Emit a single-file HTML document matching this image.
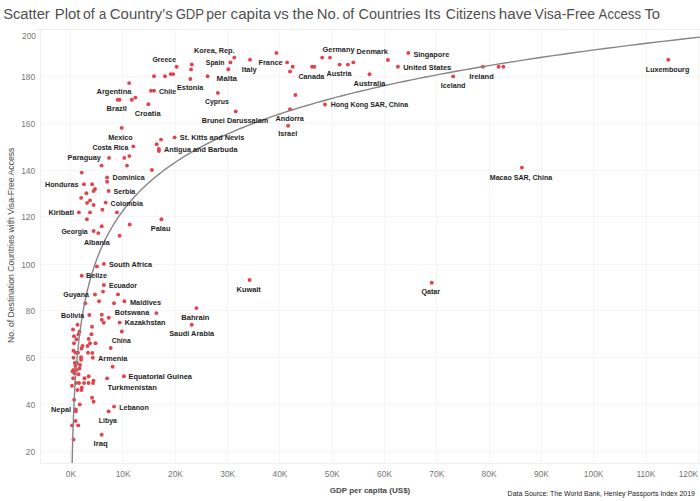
<!DOCTYPE html>
<html><head><meta charset="utf-8"><style>
html,body{margin:0;padding:0;background:#fff;width:700px;height:501px;overflow:hidden;}
svg{display:block;font-family:"Liberation Sans",sans-serif;}
</style></head><body><svg width="700" height="501" viewBox="0 0 700 501"><g fill="#f5f5f5"><rect x="70" y="30" width="1" height="433" /><rect x="122" y="30" width="1" height="433" /><rect x="175" y="30" width="1" height="433" /><rect x="227" y="30" width="1" height="433" /><rect x="279" y="30" width="1" height="433" /><rect x="332" y="30" width="1" height="433" /><rect x="384" y="30" width="1" height="433" /><rect x="436" y="30" width="1" height="433" /><rect x="489" y="30" width="1" height="433" /><rect x="541" y="30" width="1" height="433" /><rect x="593" y="30" width="1" height="433" /><rect x="646" y="30" width="1" height="433" /><rect x="698" y="30" width="1" height="433" /><rect x="41" y="451" width="659" height="1" /><rect x="41" y="404" width="659" height="1" /><rect x="41" y="357" width="659" height="1" /><rect x="41" y="310" width="659" height="1" /><rect x="41" y="264" width="659" height="1" /><rect x="41" y="216" width="659" height="1" /><rect x="41" y="170" width="659" height="1" /><rect x="41" y="123" width="659" height="1" /><rect x="41" y="76" width="659" height="1" /></g><g fill="#eeeeee"><rect x="35" y="29" width="665" height="1"/><rect x="40" y="463" width="660" height="1"/><rect x="40" y="29" width="1" height="435"/></g><g fill="#e3424c"><circle cx="176.6" cy="66.7" r="1.95"/><circle cx="154.0" cy="76.2" r="1.95"/><circle cx="165.0" cy="76.2" r="1.95"/><circle cx="170.6" cy="74.1" r="1.95"/><circle cx="173.2" cy="74.1" r="1.95"/><circle cx="129.1" cy="83.1" r="1.95"/><circle cx="151.0" cy="90.8" r="1.95"/><circle cx="154.0" cy="90.8" r="1.95"/><circle cx="117.7" cy="99.7" r="1.95"/><circle cx="119.5" cy="99.7" r="1.95"/><circle cx="131.8" cy="99.7" r="1.95"/><circle cx="135.4" cy="97.6" r="1.95"/><circle cx="148.4" cy="104.3" r="1.95"/><circle cx="234.3" cy="57.6" r="1.95"/><circle cx="250.0" cy="59.7" r="1.95"/><circle cx="276.4" cy="52.9" r="1.95"/><circle cx="230.4" cy="62.4" r="1.95"/><circle cx="228.3" cy="69.3" r="1.95"/><circle cx="191.8" cy="64.5" r="1.95"/><circle cx="191.0" cy="69.4" r="1.95"/><circle cx="190.4" cy="79.0" r="1.95"/><circle cx="207.6" cy="76.3" r="1.95"/><circle cx="217.9" cy="92.9" r="1.95"/><circle cx="287.1" cy="62.4" r="1.95"/><circle cx="292.7" cy="66.7" r="1.95"/><circle cx="290.0" cy="71.4" r="1.95"/><circle cx="312.1" cy="66.7" r="1.95"/><circle cx="314.3" cy="66.7" r="1.95"/><circle cx="322.2" cy="57.6" r="1.95"/><circle cx="330.0" cy="57.6" r="1.95"/><circle cx="339.6" cy="64.6" r="1.95"/><circle cx="347.9" cy="64.6" r="1.95"/><circle cx="353.3" cy="62.4" r="1.95"/><circle cx="369.5" cy="74.2" r="1.95"/><circle cx="295.4" cy="95.0" r="1.95"/><circle cx="325.0" cy="104.5" r="1.95"/><circle cx="408.3" cy="52.9" r="1.95"/><circle cx="387.9" cy="60.0" r="1.95"/><circle cx="397.9" cy="66.7" r="1.95"/><circle cx="453.1" cy="76.4" r="1.95"/><circle cx="482.9" cy="66.7" r="1.95"/><circle cx="498.6" cy="66.7" r="1.95"/><circle cx="503.3" cy="66.7" r="1.95"/><circle cx="668.3" cy="59.8" r="1.95"/><circle cx="121.7" cy="127.9" r="1.95"/><circle cx="133.3" cy="146.4" r="1.95"/><circle cx="156.7" cy="144.3" r="1.95"/><circle cx="158.9" cy="149.0" r="1.95"/><circle cx="158.9" cy="151.0" r="1.95"/><circle cx="161.0" cy="139.6" r="1.95"/><circle cx="109.0" cy="157.9" r="1.95"/><circle cx="124.3" cy="157.9" r="1.95"/><circle cx="129.3" cy="156.1" r="1.95"/><circle cx="101.6" cy="165.6" r="1.95"/><circle cx="127.0" cy="165.6" r="1.95"/><circle cx="235.7" cy="111.4" r="1.95"/><circle cx="174.6" cy="137.4" r="1.95"/><circle cx="290.0" cy="109.3" r="1.95"/><circle cx="288.1" cy="125.7" r="1.95"/><circle cx="81.7" cy="172.6" r="1.95"/><circle cx="107.1" cy="177.4" r="1.95"/><circle cx="107.1" cy="181.7" r="1.95"/><circle cx="83.9" cy="184.3" r="1.95"/><circle cx="92.1" cy="184.3" r="1.95"/><circle cx="95.0" cy="189.0" r="1.95"/><circle cx="93.6" cy="191.0" r="1.95"/><circle cx="108.6" cy="191.0" r="1.95"/><circle cx="86.4" cy="193.3" r="1.95"/><circle cx="81.1" cy="197.9" r="1.95"/><circle cx="90.0" cy="200.4" r="1.95"/><circle cx="87.1" cy="202.9" r="1.95"/><circle cx="93.6" cy="205.0" r="1.95"/><circle cx="105.7" cy="202.6" r="1.95"/><circle cx="102.4" cy="209.7" r="1.95"/><circle cx="116.9" cy="212.4" r="1.95"/><circle cx="78.9" cy="212.4" r="1.95"/><circle cx="90.0" cy="212.4" r="1.95"/><circle cx="86.9" cy="219.3" r="1.95"/><circle cx="101.7" cy="226.2" r="1.95"/><circle cx="129.7" cy="224.5" r="1.95"/><circle cx="151.9" cy="170.0" r="1.95"/><circle cx="161.4" cy="219.3" r="1.95"/><circle cx="93.6" cy="231.0" r="1.95"/><circle cx="98.3" cy="233.1" r="1.95"/><circle cx="119.6" cy="235.7" r="1.95"/><circle cx="96.9" cy="266.4" r="1.95"/><circle cx="103.9" cy="263.9" r="1.95"/><circle cx="81.7" cy="275.7" r="1.95"/><circle cx="103.9" cy="285.0" r="1.95"/><circle cx="103.0" cy="291.6" r="1.95"/><circle cx="95.0" cy="294.5" r="1.95"/><circle cx="118.0" cy="294.4" r="1.95"/><circle cx="99.0" cy="301.2" r="1.95"/><circle cx="85.3" cy="303.3" r="1.95"/><circle cx="114.0" cy="303.3" r="1.95"/><circle cx="124.4" cy="301.3" r="1.95"/><circle cx="89.3" cy="315.0" r="1.95"/><circle cx="101.8" cy="314.8" r="1.95"/><circle cx="108.7" cy="317.8" r="1.95"/><circle cx="101.8" cy="319.8" r="1.95"/><circle cx="103.8" cy="322.8" r="1.95"/><circle cx="119.6" cy="322.6" r="1.95"/><circle cx="77.5" cy="324.8" r="1.95"/><circle cx="92.0" cy="326.8" r="1.95"/><circle cx="73.0" cy="329.5" r="1.95"/><circle cx="79.5" cy="331.5" r="1.95"/><circle cx="121.8" cy="331.5" r="1.95"/><circle cx="91.5" cy="334.2" r="1.95"/><circle cx="156.4" cy="313.1" r="1.95"/><circle cx="196.4" cy="308.1" r="1.95"/><circle cx="191.7" cy="324.7" r="1.95"/><circle cx="110.7" cy="348.0" r="1.95"/><circle cx="78.5" cy="334.5" r="1.95"/><circle cx="74.0" cy="336.2" r="1.95"/><circle cx="76.5" cy="339.2" r="1.95"/><circle cx="88.7" cy="339.0" r="1.95"/><circle cx="74.0" cy="343.2" r="1.95"/><circle cx="90.0" cy="343.2" r="1.95"/><circle cx="95.5" cy="343.2" r="1.95"/><circle cx="82.5" cy="346.0" r="1.95"/><circle cx="81.5" cy="348.5" r="1.95"/><circle cx="87.5" cy="346.0" r="1.95"/><circle cx="73.5" cy="350.8" r="1.95"/><circle cx="75.5" cy="352.8" r="1.95"/><circle cx="78.0" cy="352.8" r="1.95"/><circle cx="88.0" cy="352.8" r="1.95"/><circle cx="92.3" cy="353.0" r="1.95"/><circle cx="73.5" cy="357.8" r="1.95"/><circle cx="81.0" cy="357.2" r="1.95"/><circle cx="81.0" cy="359.8" r="1.95"/><circle cx="92.8" cy="357.8" r="1.95"/><circle cx="74.8" cy="363.0" r="1.95"/><circle cx="77.0" cy="363.0" r="1.95"/><circle cx="80.0" cy="365.0" r="1.95"/><circle cx="75.5" cy="366.0" r="1.95"/><circle cx="79.5" cy="368.5" r="1.95"/><circle cx="112.6" cy="366.7" r="1.95"/><circle cx="73.5" cy="370.0" r="1.95"/><circle cx="76.5" cy="370.0" r="1.95"/><circle cx="72.5" cy="371.2" r="1.95"/><circle cx="74.5" cy="373.2" r="1.95"/><circle cx="78.5" cy="374.2" r="1.95"/><circle cx="88.7" cy="376.2" r="1.95"/><circle cx="123.9" cy="376.3" r="1.95"/><circle cx="73.2" cy="378.3" r="1.95"/><circle cx="84.5" cy="378.3" r="1.95"/><circle cx="107.1" cy="378.4" r="1.95"/><circle cx="93.5" cy="380.6" r="1.95"/><circle cx="76.0" cy="383.0" r="1.95"/><circle cx="79.0" cy="383.0" r="1.95"/><circle cx="84.0" cy="383.0" r="1.95"/><circle cx="88.5" cy="383.0" r="1.95"/><circle cx="93.0" cy="383.0" r="1.95"/><circle cx="72.0" cy="385.8" r="1.95"/><circle cx="77.5" cy="390.0" r="1.95"/><circle cx="81.5" cy="390.0" r="1.95"/><circle cx="81.8" cy="387.8" r="1.95"/><circle cx="92.0" cy="397.8" r="1.95"/><circle cx="93.6" cy="401.8" r="1.95"/><circle cx="74.2" cy="399.7" r="1.95"/><circle cx="79.8" cy="404.5" r="1.95"/><circle cx="114.0" cy="406.6" r="1.95"/><circle cx="108.6" cy="411.4" r="1.95"/><circle cx="75.8" cy="409.4" r="1.95"/><circle cx="75.7" cy="411.3" r="1.95"/><circle cx="75.6" cy="421.0" r="1.95"/><circle cx="72.1" cy="425.4" r="1.95"/><circle cx="78.2" cy="425.4" r="1.95"/><circle cx="101.7" cy="434.7" r="1.95"/><circle cx="73.5" cy="439.5" r="1.95"/><circle cx="249.6" cy="280.0" r="1.95"/><circle cx="431.8" cy="282.7" r="1.95"/><circle cx="521.9" cy="167.6" r="1.95"/></g><path d="M72.15,463.00 L72.18,461.58 L72.21,460.15 L72.24,458.73 L72.27,457.30 L72.30,455.88 L72.34,454.45 L72.37,453.03 L72.40,451.61 L72.44,450.18 L72.47,448.76 L72.51,447.33 L72.54,445.91 L72.58,444.48 L72.62,443.06 L72.66,441.63 L72.69,440.21 L72.73,438.79 L72.78,437.36 L72.82,435.94 L72.86,434.51 L72.90,433.09 L72.95,431.66 L72.99,430.24 L73.04,428.82 L73.09,427.39 L73.13,425.97 L73.18,424.54 L73.23,423.12 L73.29,421.69 L73.34,420.27 L73.39,418.84 L73.45,417.42 L73.50,416.00 L73.56,414.57 L73.62,413.15 L73.67,411.72 L73.74,410.30 L73.80,408.87 L73.86,407.45 L73.92,406.03 L73.99,404.60 L74.06,403.18 L74.12,401.75 L74.19,400.33 L74.26,398.90 L74.34,397.48 L74.41,396.05 L74.49,394.63 L74.56,393.21 L74.64,391.78 L74.72,390.36 L74.80,388.93 L74.89,387.51 L74.97,386.08 L75.06,384.66 L75.15,383.24 L75.24,381.81 L75.33,380.39 L75.43,378.96 L75.52,377.54 L75.62,376.11 L75.72,374.69 L75.83,373.26 L75.93,371.84 L76.04,370.42 L76.15,368.99 L76.26,367.57 L76.37,366.14 L76.49,364.72 L76.61,363.29 L76.73,361.87 L76.85,360.45 L76.98,359.02 L77.10,357.60 L77.24,356.17 L77.37,354.75 L77.51,353.32 L77.65,351.90 L77.79,350.48 L77.93,349.05 L78.08,347.63 L78.23,346.20 L78.39,344.78 L78.54,343.35 L78.70,341.93 L78.87,340.50 L79.04,339.08 L79.21,337.66 L79.38,336.23 L79.56,334.81 L79.74,333.38 L79.93,331.96 L80.12,330.53 L80.31,329.11 L80.51,327.69 L80.71,326.26 L80.91,324.84 L81.12,323.41 L81.34,321.99 L81.56,320.56 L81.78,319.14 L82.01,317.71 L82.24,316.29 L82.48,314.87 L82.72,313.44 L82.96,312.02 L83.22,310.59 L83.47,309.17 L83.74,307.74 L84.00,306.32 L84.28,304.90 L84.56,303.47 L84.84,302.05 L85.13,300.62 L85.43,299.20 L85.73,297.77 L86.04,296.35 L86.36,294.92 L86.68,293.50 L87.01,292.08 L87.34,290.65 L87.69,289.23 L88.04,287.80 L88.39,286.38 L88.76,284.95 L89.13,283.53 L89.51,282.11 L89.89,280.68 L90.29,279.26 L90.69,277.83 L91.10,276.41 L91.52,274.98 L91.95,273.56 L92.39,272.13 L92.84,270.71 L93.29,269.29 L93.76,267.86 L94.23,266.44 L94.72,265.01 L95.21,263.59 L95.71,262.16 L96.23,260.74 L96.76,259.32 L97.29,257.89 L97.84,256.47 L98.40,255.04 L98.97,253.62 L99.55,252.19 L100.15,250.77 L100.75,249.34 L101.37,247.92 L102.00,246.50 L102.65,245.07 L103.31,243.65 L103.98,242.22 L104.66,240.80 L105.36,239.37 L106.08,237.95 L106.81,236.53 L107.55,235.10 L108.31,233.68 L109.09,232.25 L109.88,230.83 L110.68,229.40 L111.51,227.98 L112.35,226.56 L113.21,225.13 L114.08,223.71 L114.98,222.28 L115.89,220.86 L116.82,219.43 L117.77,218.01 L118.74,216.58 L119.73,215.16 L120.74,213.74 L121.77,212.31 L122.83,210.89 L123.90,209.46 L125.00,208.04 L126.12,206.61 L127.26,205.19 L128.43,203.77 L129.62,202.34 L130.83,200.92 L132.07,199.49 L133.34,198.07 L134.63,196.64 L135.95,195.22 L137.29,193.79 L138.66,192.37 L140.07,190.95 L141.50,189.52 L142.96,188.10 L144.45,186.67 L145.97,185.25 L147.52,183.82 L149.10,182.40 L150.72,180.98 L152.37,179.55 L154.05,178.13 L155.77,176.70 L157.53,175.28 L159.32,173.85 L161.15,172.43 L163.01,171.00 L164.91,169.58 L166.86,168.16 L168.84,166.73 L170.86,165.31 L172.93,163.88 L175.04,162.46 L177.19,161.03 L179.39,159.61 L181.63,158.19 L183.92,156.76 L186.25,155.34 L188.64,153.91 L191.07,152.49 L193.55,151.06 L196.08,149.64 L198.67,148.21 L201.31,146.79 L204.00,145.37 L206.75,143.94 L209.56,142.52 L212.42,141.09 L215.35,139.67 L218.33,138.24 L221.38,136.82 L224.48,135.40 L227.66,133.97 L230.89,132.55 L234.20,131.12 L237.57,129.70 L241.01,128.27 L244.53,126.85 L248.11,125.43 L251.77,124.00 L255.51,122.58 L259.32,121.15 L263.21,119.73 L267.18,118.30 L271.24,116.88 L275.37,115.45 L279.60,114.03 L283.91,112.61 L288.30,111.18 L292.79,109.76 L297.37,108.33 L302.05,106.91 L306.82,105.48 L311.70,104.06 L316.67,102.64 L321.74,101.21 L326.92,99.79 L332.21,98.36 L337.60,96.94 L343.11,95.51 L348.73,94.09 L354.46,92.66 L360.32,91.24 L366.29,89.82 L372.39,88.39 L378.62,86.97 L384.97,85.54 L391.45,84.12 L398.07,82.69 L404.82,81.27 L411.72,79.85 L418.75,78.42 L425.93,77.00 L433.26,75.57 L440.74,74.15 L448.38,72.72 L456.17,71.30 L464.12,69.87 L472.24,68.45 L480.53,67.03 L488.98,65.60 L497.61,64.18 L506.42,62.75 L515.41,61.33 L524.59,59.90 L533.95,58.48 L543.51,57.06 L553.26,55.63 L563.22,54.21 L573.38,52.78 L583.75,51.36 L594.34,49.93 L605.14,48.51 L616.17,47.08 L627.42,45.66 L638.91,44.24 L650.64,42.81 L662.60,41.39 L674.81,39.96 L687.28,38.54 L700.00,37.11" fill="none" stroke="#858585" stroke-width="1.4"/><g font-family="Liberation Sans, sans-serif" font-weight="bold" font-size="8" fill="#1e1e1e"><text x="152.40" y="62.0" textLength="23.72" lengthAdjust="spacingAndGlyphs">Greece</text><text x="96.60" y="94.2" textLength="34.76" lengthAdjust="spacingAndGlyphs">Argentina</text><text x="159.00" y="93.5" textLength="17.10" lengthAdjust="spacingAndGlyphs">Chile</text><text x="194.00" y="52.5" textLength="40.63" lengthAdjust="spacingAndGlyphs">Korea, Rep.</text><text x="205.80" y="65.3" textLength="18.70" lengthAdjust="spacingAndGlyphs">Spain</text><text x="241.80" y="71.8" textLength="14.98" lengthAdjust="spacingAndGlyphs">Italy</text><text x="258.40" y="65.3" textLength="24.23" lengthAdjust="spacingAndGlyphs">France</text><text x="216.60" y="81.0" textLength="20.37" lengthAdjust="spacingAndGlyphs">Malta</text><text x="177.00" y="90.0" textLength="26.33" lengthAdjust="spacingAndGlyphs">Estonia</text><text x="205.00" y="104.2" textLength="23.72" lengthAdjust="spacingAndGlyphs">Cyprus</text><text x="322.60" y="52.2" textLength="31.92" lengthAdjust="spacingAndGlyphs">Germany</text><text x="356.60" y="54.4" textLength="31.24" lengthAdjust="spacingAndGlyphs">Denmark</text><text x="298.40" y="78.5" textLength="25.84" lengthAdjust="spacingAndGlyphs">Canada</text><text x="326.60" y="76.4" textLength="24.90" lengthAdjust="spacingAndGlyphs">Austria</text><text x="353.60" y="85.9" textLength="31.74" lengthAdjust="spacingAndGlyphs">Australia</text><text x="330.80" y="107.2" textLength="77.30" lengthAdjust="spacingAndGlyphs">Hong Kong SAR, China</text><text x="413.40" y="56.5" textLength="35.86" lengthAdjust="spacingAndGlyphs">Singapore</text><text x="403.20" y="70.0" textLength="48.06" lengthAdjust="spacingAndGlyphs">United States</text><text x="440.80" y="87.8" textLength="24.62" lengthAdjust="spacingAndGlyphs">Iceland</text><text x="469.20" y="78.5" textLength="24.58" lengthAdjust="spacingAndGlyphs">Ireland</text><text x="645.80" y="71.8" textLength="43.52" lengthAdjust="spacingAndGlyphs">Luxembourg</text><text x="106.60" y="111.4" textLength="20.34" lengthAdjust="spacingAndGlyphs">Brazil</text><text x="134.80" y="116.0" textLength="25.75" lengthAdjust="spacingAndGlyphs">Croatia</text><text x="108.20" y="139.5" textLength="24.55" lengthAdjust="spacingAndGlyphs">Mexico</text><text x="92.40" y="149.8" textLength="35.94" lengthAdjust="spacingAndGlyphs">Costa Rica</text><text x="67.60" y="160.0" textLength="33.34" lengthAdjust="spacingAndGlyphs">Paraguay</text><text x="201.80" y="123.2" textLength="66.44" lengthAdjust="spacingAndGlyphs">Brunei Darussalam</text><text x="179.80" y="140.3" textLength="64.54" lengthAdjust="spacingAndGlyphs">St. Kitts and Nevis</text><text x="164.00" y="152.0" textLength="73.44" lengthAdjust="spacingAndGlyphs">Antigua and Barbuda</text><text x="275.60" y="120.8" textLength="28.24" lengthAdjust="spacingAndGlyphs">Andorra</text><text x="278.20" y="136.3" textLength="19.07" lengthAdjust="spacingAndGlyphs">Israel</text><text x="112.60" y="180.3" textLength="32.02" lengthAdjust="spacingAndGlyphs">Dominica</text><text x="45.00" y="187.0" textLength="33.52" lengthAdjust="spacingAndGlyphs">Honduras</text><text x="113.60" y="193.5" textLength="21.72" lengthAdjust="spacingAndGlyphs">Serbia</text><text x="110.60" y="205.5" textLength="32.22" lengthAdjust="spacingAndGlyphs">Colombia</text><text x="48.40" y="215.3" textLength="25.65" lengthAdjust="spacingAndGlyphs">Kiribati</text><text x="150.80" y="230.6" textLength="19.64" lengthAdjust="spacingAndGlyphs">Palau</text><text x="61.40" y="233.8" textLength="26.33" lengthAdjust="spacingAndGlyphs">Georgia</text><text x="84.00" y="244.8" textLength="25.64" lengthAdjust="spacingAndGlyphs">Albania</text><text x="109.00" y="266.8" textLength="43.02" lengthAdjust="spacingAndGlyphs">South Africa</text><text x="86.00" y="278.1" textLength="21.04" lengthAdjust="spacingAndGlyphs">Belize</text><text x="109.00" y="288.1" textLength="28.01" lengthAdjust="spacingAndGlyphs">Ecuador</text><text x="63.20" y="297.2" textLength="25.70" lengthAdjust="spacingAndGlyphs">Guyana</text><text x="61.00" y="318.4" textLength="23.20" lengthAdjust="spacingAndGlyphs">Bolivia</text><text x="114.80" y="315.1" textLength="34.53" lengthAdjust="spacingAndGlyphs">Botswana</text><text x="130.00" y="304.6" textLength="31.04" lengthAdjust="spacingAndGlyphs">Maldives</text><text x="124.80" y="325.1" textLength="40.63" lengthAdjust="spacingAndGlyphs">Kazakhstan</text><text x="111.80" y="343.1" textLength="18.92" lengthAdjust="spacingAndGlyphs">China</text><text x="181.20" y="319.8" textLength="28.24" lengthAdjust="spacingAndGlyphs">Bahrain</text><text x="169.20" y="336.4" textLength="44.86" lengthAdjust="spacingAndGlyphs">Saudi Arabia</text><text x="236.60" y="291.8" textLength="24.25" lengthAdjust="spacingAndGlyphs">Kuwait</text><text x="421.40" y="294.3" textLength="18.61" lengthAdjust="spacingAndGlyphs">Qatar</text><text x="489.80" y="179.5" textLength="62.32" lengthAdjust="spacingAndGlyphs">Macao SAR, China</text><text x="98.00" y="360.6" textLength="29.33" lengthAdjust="spacingAndGlyphs">Armenia</text><text x="128.60" y="379.1" textLength="63.33" lengthAdjust="spacingAndGlyphs">Equatorial Guinea</text><text x="107.60" y="390.1" textLength="49.25" lengthAdjust="spacingAndGlyphs">Turkmenistan</text><text x="119.20" y="409.6" textLength="29.61" lengthAdjust="spacingAndGlyphs">Lebanon</text><text x="51.00" y="412.2" textLength="20.04" lengthAdjust="spacingAndGlyphs">Nepal</text><text x="98.80" y="423.2" textLength="18.00" lengthAdjust="spacingAndGlyphs">Libya</text><text x="93.60" y="446.4" textLength="14.17" lengthAdjust="spacingAndGlyphs">Iraq</text></g><g font-family="Liberation Sans, sans-serif" font-size="14" fill="#505050"><text x="3.20" y="19.3" textLength="46.55" lengthAdjust="spacingAndGlyphs">Scatter</text><text x="54.80" y="19.3" textLength="25.56" lengthAdjust="spacingAndGlyphs">Plot</text><text x="83.00" y="19.3" textLength="11.66" lengthAdjust="spacingAndGlyphs">of</text><text x="98.88" y="19.3" textLength="7.32" lengthAdjust="spacingAndGlyphs">a</text><text x="109.80" y="19.3" textLength="62.86" lengthAdjust="spacingAndGlyphs">Country’s</text><text x="175.63" y="19.3" textLength="28.52" lengthAdjust="spacingAndGlyphs">GDP</text><text x="206.20" y="19.3" textLength="20.21" lengthAdjust="spacingAndGlyphs">per</text><text x="230.60" y="19.3" textLength="40.45" lengthAdjust="spacingAndGlyphs">capita</text><text x="273.80" y="19.3" textLength="15.08" lengthAdjust="spacingAndGlyphs">vs</text><text x="292.46" y="19.3" textLength="21.21" lengthAdjust="spacingAndGlyphs">the</text><text x="316.80" y="19.3" textLength="23.11" lengthAdjust="spacingAndGlyphs">No.</text><text x="342.40" y="19.3" textLength="11.82" lengthAdjust="spacingAndGlyphs">of</text><text x="358.60" y="19.3" textLength="61.92" lengthAdjust="spacingAndGlyphs">Countries</text><text x="424.55" y="19.3" textLength="16.11" lengthAdjust="spacingAndGlyphs">Its</text><text x="445.80" y="19.3" textLength="49.91" lengthAdjust="spacingAndGlyphs">Citizens</text><text x="498.80" y="19.3" textLength="32.97" lengthAdjust="spacingAndGlyphs">have</text><text x="534.60" y="19.3" textLength="60.59" lengthAdjust="spacingAndGlyphs">Visa-Free</text><text x="598.62" y="19.3" textLength="42.42" lengthAdjust="spacingAndGlyphs">Access</text><text x="644.40" y="19.3" textLength="15.61" lengthAdjust="spacingAndGlyphs">To</text></g><g font-family="Liberation Sans, sans-serif" font-size="8.4" fill="#767676"><text x="35.2" y="454.5" text-anchor="end">20</text><text x="35.2" y="407.5" text-anchor="end">40</text><text x="35.2" y="360.5" text-anchor="end">60</text><text x="35.2" y="313.5" text-anchor="end">80</text><text x="35.2" y="267.5" text-anchor="end">100</text><text x="35.2" y="219.5" text-anchor="end">120</text><text x="35.2" y="173.5" text-anchor="end">140</text><text x="35.2" y="126.5" text-anchor="end">160</text><text x="35.2" y="79.5" text-anchor="end">180</text><text x="36.0" y="38.6" text-anchor="end">200</text><text x="70.90" y="477" text-anchor="middle">0K</text><text x="123.17" y="477" text-anchor="middle">10K</text><text x="175.44" y="477" text-anchor="middle">20K</text><text x="227.71" y="477" text-anchor="middle">30K</text><text x="279.98" y="477" text-anchor="middle">40K</text><text x="332.25" y="477" text-anchor="middle">50K</text><text x="384.52" y="477" text-anchor="middle">60K</text><text x="436.79" y="477" text-anchor="middle">70K</text><text x="489.06" y="477" text-anchor="middle">80K</text><text x="541.33" y="477" text-anchor="middle">90K</text><text x="593.60" y="477" text-anchor="middle">100K</text><text x="645.87" y="477" text-anchor="middle">110K</text><text x="698.2" y="477" text-anchor="end">120K</text></g><text x="329.7" y="493.1" textLength="80.6" lengthAdjust="spacingAndGlyphs" font-family="Liberation Sans, sans-serif" font-weight="bold" font-size="8" fill="#484848">GDP per capita (US$)</text><text transform="translate(14.4,342.9) rotate(-90)" x="0" y="0" textLength="195.3" lengthAdjust="spacingAndGlyphs" font-family="Liberation Sans, sans-serif" font-size="8.4" fill="#4a4a4a">No. of Destination Countries with Visa-Free Access</text><text x="507.6" y="495.5" textLength="187.3" lengthAdjust="spacingAndGlyphs" font-family="Liberation Sans, sans-serif" font-size="7.8" fill="#1a1a1a">Data Source: The World Bank, Henley Passports Index 2019</text></svg></body></html>
